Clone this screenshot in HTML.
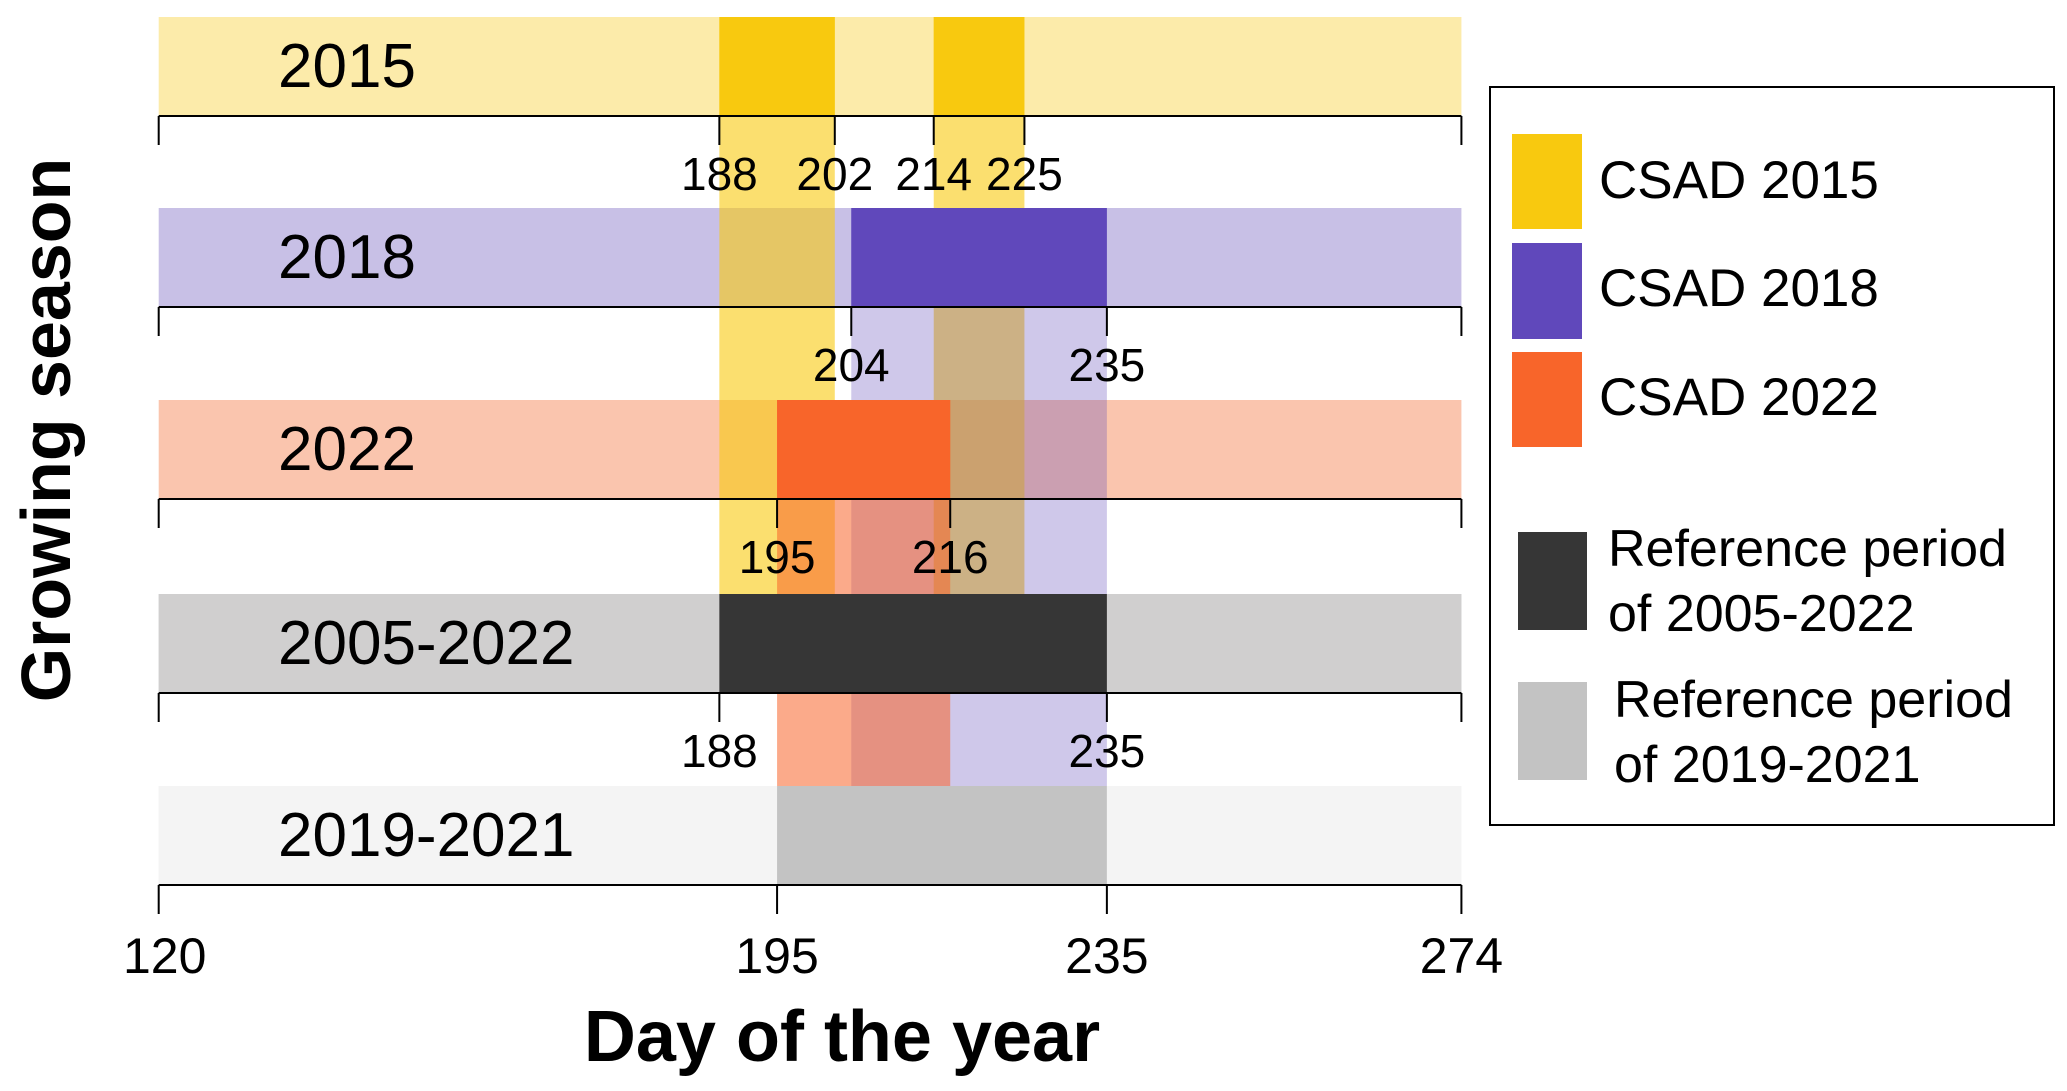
<!DOCTYPE html>
<html><head><meta charset="utf-8"><style>
html,body{margin:0;padding:0;background:#fff;}
svg{display:block;}
text{font-family:"Liberation Sans",sans-serif;}
.n{font-family:"Liberation Sans Narrow","Liberation Sans",sans-serif;}
</style></head><body>
<svg id="chart" width="2067" height="1091" viewBox="0 0 2067 1091" xmlns="http://www.w3.org/2000/svg">
<g id="plot"></g>
<text transform="translate(70,430) rotate(-90)" text-anchor="middle" font-size="70" font-weight="bold">Growing season</text>
<text x="842" y="1061" text-anchor="middle" font-size="72" font-weight="bold">Day of the year</text>
<g>
<rect x="1490" y="87" width="564" height="738" fill="#fff" stroke="#000" stroke-width="2"/>
<rect x="1512" y="134" width="70" height="95" fill="#f8c90f"/>
<text x="1599" y="198" font-size="53">CSAD 2015</text>
<rect x="1512" y="243" width="70" height="96" fill="#6048bb"/>
<text x="1599" y="306" font-size="53">CSAD 2018</text>
<rect x="1512" y="352" width="70" height="95" fill="#f8652a"/>
<text x="1599" y="415" font-size="53">CSAD 2022</text>
<rect x="1518" y="532" width="69" height="98" fill="#363636"/>
<text x="1608" y="566" font-size="52"><tspan x="1608">Reference period</tspan><tspan x="1608" y="631">of 2005-2022</tspan></text>
<rect x="1518" y="682" width="69" height="98" fill="#c3c3c3"/>
<text x="1614" y="717" font-size="52"><tspan x="1614">Reference period</tspan><tspan x="1614" y="782">of 2019-2021</tspan></text>
</g>
</svg>
<script>
const rowLabels = ["2015", "2018", "2022", "2005-2022", "2019-2021"];
const rowBg = ["#fcebaa", "#c8c0e6", "#fac5ae", "#d0cfcf", "#f4f4f4"];
const csad2015 = [[188, 202], [214, 225]];
const csad2018 = [[204, 235]];
const csad2022 = [[195, 216]];
const ref20052022 = [[188, 235]];
const ref20192021 = [[195, 235]];
const tickRow0 = [188, 202, 214, 225];
const tickRow1 = [204, 235];
const tickRow2 = [195, 216];
const tickRow3 = [188, 235];
const tickBottom = [120, 195, 235, 274];
const domainMin = 120, domainMax = 274, domainPlot = 278;

const NS = "http://www.w3.org/2000/svg";
const plot = document.getElementById("plot");
const X0 = 158.7, PXD = 8.245;
function x(d){ return X0 + (d - domainMin) * PXD; }
const xEnd = x(domainPlot);
const rowTop = [17, 208, 400, 594, 786];
const bandH = 99;
function rowY(i){ return rowTop[i]; }
function mk(tag, attrs){ const e = document.createElementNS(NS, tag); for (const k in attrs) e.setAttribute(k, attrs[k]); plot.appendChild(e); return e; }

rowLabels.forEach((lab, i) => {
  const r = mk("rect", {x: x(domainMin), y: rowY(i), width: xEnd - x(domainMin), height: bandH, fill: rowBg[i]});
  
  
});
function cols(arr, row, endRow, color, op, name){
  arr.forEach(([a, b]) => {
    const r = mk("rect", {x: x(a), y: rowY(row), width: x(b) - x(a), height: rowY(endRow) - rowY(row), fill: color, "fill-opacity": op});
    
    
  });
}
cols(csad2015, 0, 3, "#f8c90f", 0.6, "column-csad-2015");
cols(csad2018, 1, 4, "#6048bb", 0.3, "column-csad-2018");
cols(csad2022, 2, 4, "#f8652a", 0.55, "column-csad-2022");
function solid(arr, row, color, name){
  arr.forEach(([a, b]) => {
    const r = mk("rect", {x: x(a), y: rowY(row), width: x(b) - x(a), height: bandH, fill: color});
    
    
  });
}
solid(csad2015, 0, "#f8c90f", "csad-2015-block");
solid(csad2018, 1, "#6048bb", "csad-2018-block");
solid(csad2022, 2, "#f8652a", "csad-2022-block");
{ const r = mk("rect", {x: x(domainMin), y: rowY(3), width: xEnd - x(domainMin), height: bandH, fill: rowBg[3]});
  
   }
{ const r = mk("rect", {x: x(domainMin), y: rowY(4), width: xEnd - x(domainMin), height: bandH, fill: rowBg[4]});
  
   }
solid(ref20052022, 3, "#363636", "reference-2005-2022-block");
solid(ref20192021, 4, "#c3c3c3", "reference-2019-2021-block");

rowLabels.forEach((lab, i) => {
  const t = mk("text", {x: 278, y: rowY(i) + 70, "font-size": 62, "class": "n"});
  t.textContent = lab;
  
  
});
const tickSets = [tickRow0, tickRow1, tickRow2, tickRow3, tickBottom];
tickSets.forEach((ticks, i) => {
  const yb = rowY(i) + bandH;
  const ln = mk("line", {x1: x(domainMin), x2: xEnd, y1: yb, y2: yb, stroke: "#000", "stroke-width": 2});
  
  
  if (i !== 4) {
    [x(domainMin), xEnd].forEach(xp => {
      const t = mk("line", {x1: xp, x2: xp, y1: yb, y2: yb + 29, stroke: "#000", "stroke-width": 2});
      
      
    });
  }
  ticks.forEach(d => {
    const xp = (d === domainMax) ? xEnd : x(d);
    const t = mk("line", {x1: xp, x2: xp, y1: yb, y2: yb + 29, stroke: "#000", "stroke-width": 2});
    
    
    const lbl = mk("text", {x: xp + (i === 4 && d === domainMin ? 6 : 0), y: yb + (i === 4 ? 88 : 74), "font-size": i === 4 ? 50 : 46, "text-anchor": "middle", "class": "n"});
    lbl.textContent = d;
    
    
  });
});
</script>
</body></html>
